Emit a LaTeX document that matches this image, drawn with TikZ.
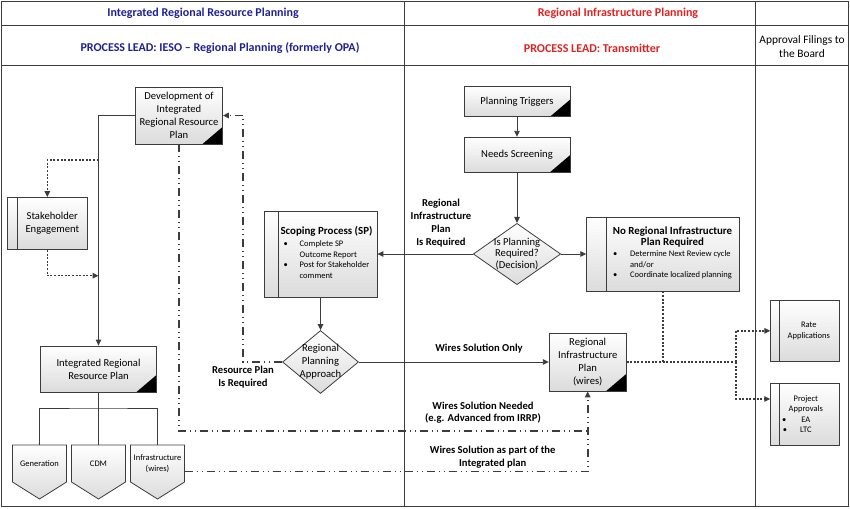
\documentclass[tikz,border=0pt]{standalone}
\usepackage{fontspec}
\setmainfont{Carlito}
\usetikzlibrary{shapes.geometric,arrows.meta,positioning}
\definecolor{leadblue}{RGB}{32,32,150}
\definecolor{leadred}{RGB}{226,32,32}
\definecolor{rule}{RGB}{60,60,60}
\newcommand\ftxt{\fontsize{10.6}{13}\selectfont}
\newcommand\fsml{\fontsize{8.5}{10.5}\selectfont}
\newcommand\fbld{\fontsize{10.6}{12.8}\selectfont\bfseries}
\newcommand\ftitle{\fontsize{10.9}{12}\selectfont\bfseries}
\newcommand\fhead{\fontsize{12}{14}\selectfont\bfseries}
\newcommand\fdia{\fontsize{10.6}{11.8}\selectfont}
\tikzset{
  procbox/.style={draw=rule,line width=0.8pt,top color=white,bottom color=black!14,inner sep=0pt},
  docbox/.style={procbox,path picture={\fill (path picture bounding box.south east) -- ++(-20pt,0pt) -- ++(20pt,17pt) -- cycle;}},
  subbox/.style={procbox,path picture={\draw[rule,line width=0.8pt] ([xshift=#1]path picture bounding box.south west) -- ([xshift=#1]path picture bounding box.north west);}},
  decision/.style={procbox,diamond},
  outcome/.style={font=\fsml,align=center,minimum width=54pt,minimum height=37pt,inner sep=0pt,anchor=north},
  link/.style={draw=rule,line width=0.9pt},
  flow/.style={link,-{Triangle[length=6pt,width=5.5pt]}},
  dotline/.style={draw=rule,line width=1.4pt,dash pattern=on 2pt off 1.6pt},
  dotflow/.style={dotline,-{Triangle[length=6pt,width=5.5pt]}},
  dashline/.style={draw=rule,line width=1.6pt,dash pattern=on 8pt off 4pt on 1pt off 4pt on 1pt off 4pt},
  dashflow/.style={dashline,-{Triangle[length=6pt,width=5.5pt]}},
  note/.style={font=\fbld,align=center,inner sep=0pt}
}
\begin{document}
\begin{tikzpicture}[x=1pt,y=-1pt]
	\useasboundingbox (0,0) rectangle (850,508);
	\draw[rule,line width=1.2pt] (1.5,1.5) rectangle (848.5,506.5);
	\draw[rule,line width=1pt] (1.5,25.5) -- (848.5,25.5) (1.5,65.5) -- (848.5,65.5) (404,1.5) -- (404,506.5) (755,1.5) -- (755,506.5);
	\node[font=\fhead,text=leadblue] (h1) at (203,13) {Integrated Regional Resource Planning};
	\node[font=\fhead,text=leadred] (h2) at (618,13) {Regional Infrastructure Planning};
	\node[font=\fhead,text=leadblue] (h3) at (220,48) {PROCESS LEAD: IESO – Regional Planning (formerly OPA)};
	\node[font=\fhead,text=leadred] (h4) at (592,48) {PROCESS LEAD: Transmitter};
	\node[font={\fontsize{11.4}{14}\selectfont},align=center] (h5) at (802,47) {Approval Filings to\\the Board};

	\node[docbox,minimum width=87pt,minimum height=57pt,font=\ftxt,align=center] (dev) at (179,115.5) {Development of\\Integrated\\Regional Resource\\Plan};
	\node[subbox=10pt,minimum width=80pt,minimum height=52pt] (stake) at (47.3,223.5) {};
	\node[font=\ftxt,align=center] (stake-t) at ([xshift=5pt]stake.center) {Stakeholder\\Engagement};
	\node[docbox,minimum width=116pt,minimum height=46pt,font=\ftxt,align=center] (irrp) at (98.5,369) {Integrated Regional\\Resource Plan};
	\foreach \x in {39.5,98.5,157.5}
		\draw[procbox] (\x-27,445) -- (\x+27,445) -- (\x+27,482) -- (\x,499) -- (\x-27,482) -- cycle;
	\node[outcome] (gen) at (39.5,445) {Generation};
	\node[outcome] (cdm) at (98.5,445) {CDM};
	\node[outcome] (inf) at (157.5,445) {Infrastructure\\(wires)};

	\node[subbox=14pt,minimum width=113pt,minimum height=86pt] (scope) at (320.5,254) {};
	\node[font=\fsml,align=center] (scope-t) at ([xshift=6pt]scope.center) {{\ftitle Scoping Process (SP)}\\[2pt]
		\begin{tabular}[t]{@{}p{16pt}@{}l@{}}\textbullet&Complete SP\\&Outcome Report\\\textbullet&Post for Stakeholder\\&comment\end{tabular}};
	\node[decision,minimum width=76pt,minimum height=63pt,label={[font=\ftxt,align=center]center:Regional\\Planning\\Approach}] (rpa) at (320.5,362) {};

	\node[docbox,minimum width=106pt,minimum height=30pt,font=\ftxt] (trig) at (517,101.7) {Planning Triggers};
	\node[docbox,minimum width=106pt,minimum height=35pt,font=\ftxt] (screen) at (517,154.7) {Needs Screening};
	\node[decision,minimum width=87.4pt,minimum height=61.3pt,label={[font=\fdia,align=center]center:Is Planning\\Required?\\(Decision)}] (ipr) at (517,254) {};
	\node[subbox=19.3pt,minimum width=152.7pt,minimum height=74pt] (norip) at (663,254) {};
	\node[font=\fsml,align=center] (norip-t) at ([xshift=9.5pt]norip.center) {{\ftitle No Regional Infrastructure}\\{\ftitle Plan Required}\\[1pt]
		\begin{tabular}[t]{@{}p{17pt}@{}l@{}}\textbullet&Determine Next Review cycle\\&and/or\\\textbullet&Coordinate localized planning\end{tabular}};
	\node[docbox,minimum width=77pt,minimum height=58pt,font=\ftxt,align=center] (rip) at (587.7,362) {Regional\\Infrastructure\\Plan\\(wires)};

	\node[subbox=8.3pt,minimum width=68.3pt,minimum height=60.3pt] (rate) at (804.8,330.8) {};
	\node[font=\fsml,align=center] (rate-t) at ([xshift=4pt]rate.center) {Rate\\Applications};
	\node[subbox=8.3pt,minimum width=68.3pt,minimum height=62pt] (proj) at (804.8,414) {};
	\node[font=\fsml,align=center] (proj-t) at ([xshift=1pt]proj.center) {Project\\Approvals\\\llap{\textbullet\hspace{15pt}}EA\\\llap{\textbullet\hspace{13pt}}LTC};

	\coordinate (toStake) at (98.5,160);
	\coordinate (fromStake) at (98.5,275.7);
	\coordinate (bus) at (98.5,408);
	\coordinate (wn) at (587.7,431);
	\coordinate (wp) at (587.7,471.5);
	\coordinate (fork) at (736,362);

	\draw[flow] (dev.west) -| (irrp.north);
	\draw[dotflow] (toStake) -| (stake.north);
	\draw[dotflow] (stake.south) |- (fromStake);
	\draw[link] (irrp.south) -- (cdm.north) (gen.north) |- (bus) -| (inf.north);
	\draw[dashline] (dev.south) |- (wn);
	\draw[dashflow] (inf.east |- wp) -- (wp) -- (rip.south);
	\draw[dashflow] (rpa.west) -- (243,362) |- (dev.east);
	\draw[flow] (scope.south) -- (rpa.north);
	\draw[flow] (rpa.east) -- (rip.west);
	\draw[flow] (trig) -- (screen);
	\draw[flow] (screen) -- (ipr);
	\draw[flow] (ipr) -- (scope);
	\draw[flow] (ipr) -- (norip);
	\draw[dotline] (rip.east) -- (fork) (norip.south) -- (norip.south |- fork);
	\draw[dotflow] (fork) |- (rate.west);
	\draw[dotflow] (fork) |- ([yshift=15pt]proj.west);

	\node[note] (resreq) at (243,377) {Resource Plan\\Is Required};
	\node[note] (wonly) at (479,349) {Wires Solution Only};
	\node[note] (rireq) at (441,223) {Regional\\Infrastructure\\Plan\\Is Required};
	\node[note] (wneed) at (483,412.7) {Wires Solution Needed\\(e.g. Advanced from IRRP)};
	\node[note] (wpart) at (492.7,457) {Wires Solution as part of the\\Integrated plan};
\end{tikzpicture}
\end{document}
